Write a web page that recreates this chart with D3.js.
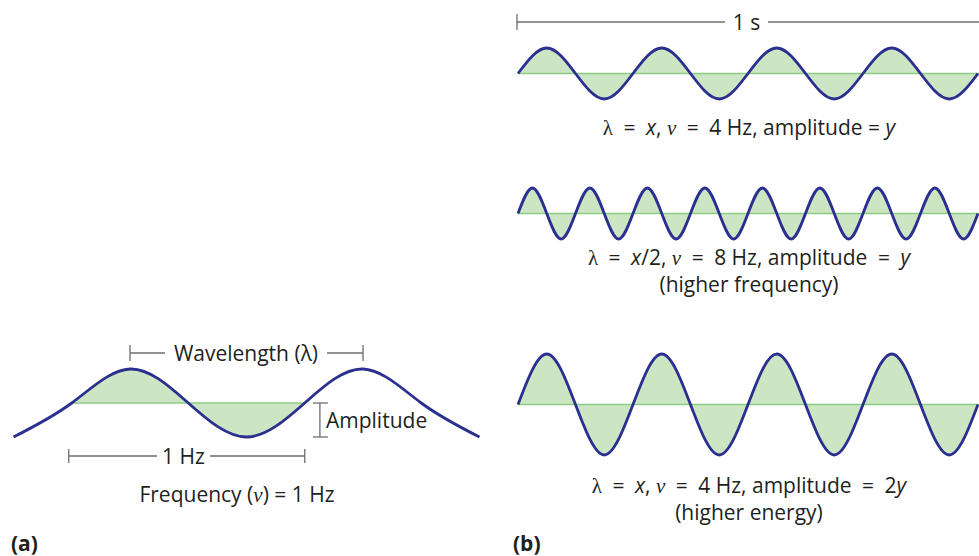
<!DOCTYPE html>
<html>
<head>
<meta charset="utf-8">
<script src="https://cdn.jsdelivr.net/npm/d3@7"></script>
<style>
  body { margin: 0; background: #fff; }
  svg { display: block; }
  text { font-family: "Open Sans", sans-serif; fill: #231f20; }
</style>
</head>
<body>
<svg id="chart" width="979" height="556"></svg>
<script>
// Panel (a): one wave, x in wavelengths, displacement in amplitudes
const waveAX = [-0.5, -0.25, 0, 0.25, 0.5, 0.75, 1, 1.25, 1.5];
const waveAY = [-1, 0, 1, 0, -1, 0, 1, 0, -1];
const shadeA = [-0.25, 0.75];         // shaded cycle (1 Hz)
const wavelengthSpan = [0, 1];        // peak to peak
const amplitudeSpan = [0, -1];        // centre to trough

// Panel (b): x in seconds, displacement in units of y
const timeB = [0, 0.0625, 0.125, 0.1875, 0.25, 0.3125, 0.375, 0.4375, 0.5,
  0.5625, 0.625, 0.6875, 0.75, 0.8125, 0.875, 0.9375, 1];
const timeB8 = [0, 0.03125, 0.0625, 0.09375, 0.125, 0.15625, 0.1875, 0.21875, 0.25,
  0.28125, 0.3125, 0.34375, 0.375, 0.40625, 0.4375, 0.46875, 0.5,
  0.53125, 0.5625, 0.59375, 0.625, 0.65625, 0.6875, 0.71875, 0.75,
  0.78125, 0.8125, 0.84375, 0.875, 0.90625, 0.9375, 0.96875, 1];
const wave4Hz = [0, 1, 0, -1, 0, 1, 0, -1, 0, 1, 0, -1, 0, 1, 0, -1, 0];
const wave8Hz = [0, 1, 0, -1, 0, 1, 0, -1, 0, 1, 0, -1, 0, 1, 0, -1, 0,
  1, 0, -1, 0, 1, 0, -1, 0, 1, 0, -1, 0, 1, 0, -1, 0];
const wave4Hz2y = [0, 2, 0, -2, 0, 2, 0, -2, 0, 2, 0, -2, 0, 2, 0, -2, 0];

const BLUE = "#2b2f8f", FILL = "#cce6c4", GREEN = "#8ccb84", GRAY = "#6d6e71";
const FS = 21;
const EQ = "\u2002=\u2002";

const svg = d3.select("#chart");

// scales
const xA = d3.scaleLinear().domain([0, 1]).range([130, 363]);
const yA = d3.scaleLinear().domain([-1, 1]).range([437, 369]);
const xB = d3.scaleLinear().domain([0, 1]).range([518, 978]);

function drawWave(g, xs, ys, x, y, clipRange, id) {
  const pts = xs.map((v, i) => [v, ys[i]]);
  const area = d3.area().curve(d3.curveNatural)
    .x(d => x(d[0])).y0(y(0)).y1(d => y(d[1]));
  const line = d3.line().curve(d3.curveNatural)
    .x(d => x(d[0])).y(d => y(d[1]));
  const lo = clipRange ? clipRange[0] : xs[0];
  const hi = clipRange ? clipRange[1] : xs[xs.length - 1];

  g.append("clipPath").attr("id", id)
    .append("rect")
    .attr("x", x(lo)).attr("width", x(hi) - x(lo))
    .attr("y", 0).attr("height", 556);

  g.append("path").datum(pts)
    .attr("d", area)
    .attr("fill", FILL)
    .attr("clip-path", `url(#${id})`);
  g.append("line")
    .attr("x1", x(lo)).attr("x2", x(hi))
    .attr("y1", y(0)).attr("y2", y(0))
    .attr("stroke", GREEN).attr("stroke-width", 1.5);
  g.append("path").datum(pts)
    .attr("d", line)
    .attr("fill", "none")
    .attr("stroke", BLUE)
    .attr("stroke-width", 2.8);
}

// horizontal bracket with label in the middle gap
function hBracket(x1, x2, y, label, gapL, gapR, tickH, rightTick = true) {
  const g = svg.append("g").attr("stroke", GRAY).attr("stroke-width", 1.3);
  g.append("line").attr("x1", x1).attr("x2", gapL).attr("y1", y).attr("y2", y);
  g.append("line").attr("x1", gapR).attr("x2", x2).attr("y1", y).attr("y2", y);
  g.append("line").attr("x1", x1).attr("x2", x1).attr("y1", y - tickH).attr("y2", y + tickH);
  if (rightTick) {
    g.append("line").attr("x1", x2).attr("x2", x2).attr("y1", y - tickH).attr("y2", y + tickH);
  }
  svg.append("text")
    .attr("x", (gapL + gapR) / 2).attr("y", y + 7.5)
    .attr("text-anchor", "middle")
    .attr("font-size", FS)
    .text(label);
}

// ---------- panel (a)
const gA = svg.append("g");
drawWave(gA, waveAX, waveAY, xA, yA, shadeA, "clipA");

hBracket(xA(wavelengthSpan[0]), xA(wavelengthSpan[1]), 353, "Wavelength (λ)", 165, 327, 8);
hBracket(xA(shadeA[0]) - 3, xA(shadeA[1]), 456, "1 Hz", 157, 210, 7);

// amplitude bar
const ampX = xA(0.815);
const ga = svg.append("g").attr("stroke", GRAY).attr("stroke-width", 1.3);
ga.append("line").attr("x1", ampX).attr("x2", ampX)
  .attr("y1", yA(amplitudeSpan[0])).attr("y2", yA(amplitudeSpan[1]));
[amplitudeSpan[0], amplitudeSpan[1]].forEach(v => {
  ga.append("line").attr("x1", ampX - 7).attr("x2", ampX + 8)
    .attr("y1", yA(v)).attr("y2", yA(v));
});
svg.append("text").attr("x", 326).attr("y", 428)
  .attr("font-size", FS).text("Amplitude");

const fq = svg.append("text").attr("x", 237).attr("y", 502)
  .attr("text-anchor", "middle").attr("font-size", FS);
fq.append("tspan").text("Frequency (");
fq.append("tspan").attr("font-family", "Liberation Serif").attr("font-style", "italic").text("ν");
fq.append("tspan").text(") = 1 Hz");

svg.append("text").attr("x", 11).attr("y", 551)
  .attr("font-size", FS).attr("font-weight", "bold").text("(a)");

// ---------- panel (b)
hBracket(xB(0) - 1, 979, 22, "1 s", 725, 768, 8, false);

const yB1 = d3.scaleLinear().domain([-1, 1]).range([99, 48]);
const yB2 = d3.scaleLinear().domain([-1, 1]).range([239, 188]);
const yB3 = d3.scaleLinear().domain([-2, 2]).range([455, 354]);

drawWave(svg.append("g"), timeB, wave4Hz, xB, yB1, [0, 1.01], "clipB1");
drawWave(svg.append("g"), timeB8, wave8Hz, xB, yB2, [0, 1.01], "clipB2");
drawWave(svg.append("g"), timeB, wave4Hz2y, xB, yB3, [0, 1.01], "clipB3");

// caption with serif greek letters and italic variables
function caption(y, parts) {
  const t = svg.append("text").attr("x", 749).attr("y", y)
    .attr("text-anchor", "middle").attr("font-size", FS)
    .attr("xml:space", "preserve");
  parts.forEach(p => {
    const s = t.append("tspan").text(p[0]);
    if (p[1] === "g") s.attr("font-family", "Liberation Serif");
    if (p[1] === "gi") s.attr("font-family", "Liberation Serif").attr("font-style", "italic");
    if (p[1] === "i") s.attr("font-style", "italic");
  });
}

caption(135, [["λ", "g"], [EQ], ["x", "i"], [", "], ["ν", "gi"], [EQ + "4 Hz, amplitude = "], ["y", "i"]]);
caption(265, [["λ", "g"], [EQ], ["x", "i"], ["/2, "], ["ν", "gi"], [EQ + "8 Hz, amplitude" + EQ], ["y", "i"]]);
caption(292, [["(higher frequency)"]]);
caption(493, [["λ", "g"], [EQ], ["x", "i"], [", "], ["ν", "gi"], [EQ + "4 Hz, amplitude" + EQ + "2"], ["y", "i"]]);
caption(520, [["(higher energy)"]]);

svg.append("text").attr("x", 513).attr("y", 551)
  .attr("font-size", FS).attr("font-weight", "bold").text("(b)");
</script>
</body>
</html>
